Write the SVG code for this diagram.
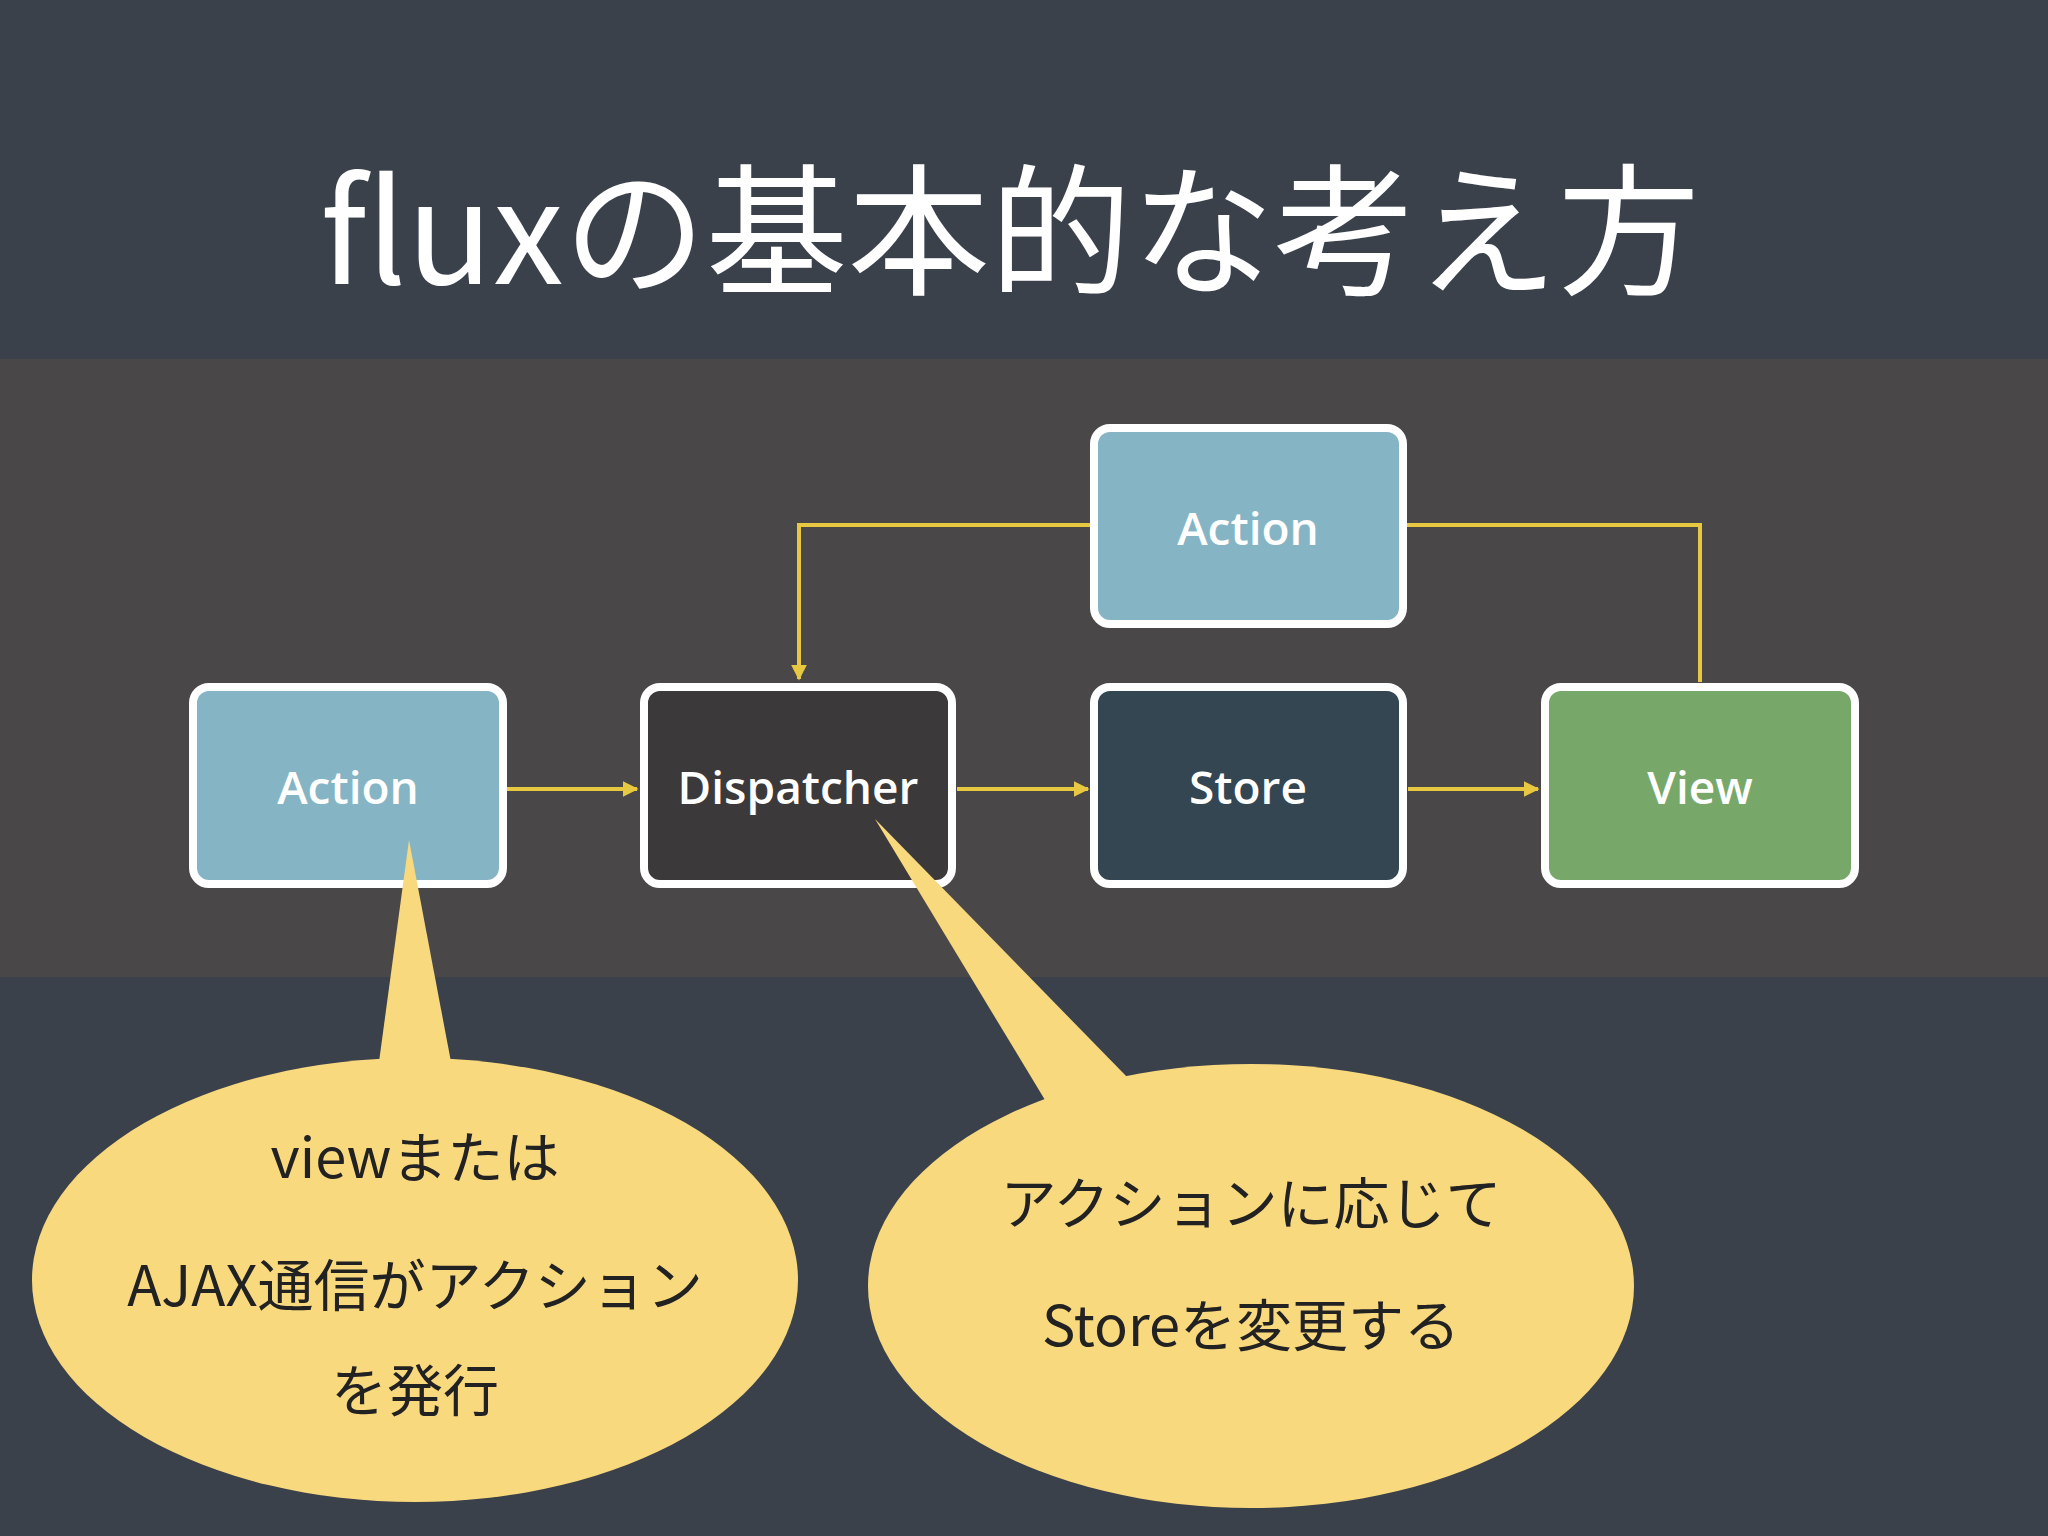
<svg xmlns="http://www.w3.org/2000/svg" width="2048" height="1536" viewBox="0 0 2048 1536">
<defs>
<style>
.n{stroke:#fff;stroke-width:8}
.nl{font-family:"Open Sans","Noto Sans",sans-serif;font-size:46px;font-weight:600;fill:#fff;text-anchor:middle}
.c{stroke:#e8c840;stroke-width:4;fill:none}
.bt{font-family:"Noto Sans CJK JP",serif;font-size:56px;fill:#222;text-anchor:middle}
.bub{fill:#f8d97e}
</style>
<marker id="a" viewBox="0 0 10 10" refX="9" refY="5" markerWidth="4" markerHeight="4" orient="auto"><path d="M0,0L10,5L0,10z" fill="#e8c840"/></marker>
</defs>
<rect width="2048" height="1536" fill="#3b414b"/>
<rect y="359" width="2048" height="618" fill="#4a4748"/>
<text x="1010" y="284" font-family="'Noto Sans CJK JP',serif" font-size="142" fill="#fff" text-anchor="middle">fluxの基本的な考え方</text>
<g id="connectors">
<line class="c" x1="507" y1="789" x2="637" y2="789" marker-end="url(#a)"/>
<line class="c" x1="957" y1="789" x2="1088" y2="789" marker-end="url(#a)"/>
<line class="c" x1="1408" y1="789" x2="1538" y2="789" marker-end="url(#a)"/>
<polyline class="c" points="1700,682 1700,525 1403,525"/>
<polyline class="c" points="1094,525 799,525 799,679" marker-end="url(#a)"/>
</g>
<g id="action-top"><rect class="n" x="1094" y="428" width="309" height="196" rx="16" fill="#85b5c4"/><text class="nl" x="1248" y="545">Action</text></g>
<g id="action-left"><rect class="n" x="193" y="687" width="310" height="197" rx="16" fill="#85b5c4"/><text class="nl" x="348" y="804">Action</text></g>
<g id="dispatcher"><rect class="n" x="644" y="687" width="308" height="197" rx="16" fill="#3c393a"/><text class="nl" x="798" y="804">Dispatcher</text></g>
<g id="store"><rect class="n" x="1094" y="687" width="309" height="197" rx="16" fill="#334651"/><text class="nl" x="1248" y="804">Store</text></g>
<g id="view"><rect class="n" x="1545" y="687" width="310" height="197" rx="16" fill="#77a86a"/><text class="nl" x="1700" y="804">View</text></g>
<g id="bubble1">
<polygon class="bub" points="409,840 379,1062 451,1062"/>
<ellipse class="bub" cx="415" cy="1280" rx="383" ry="222"/>
<text class="bt" x="415" y="1178">viewまたは</text>
<text class="bt" x="415" y="1306">AJAX通信がアクション</text>
<text class="bt" x="415" y="1411">を発行</text>
</g>
<g id="bubble2">
<polygon class="bub" points="875,819 1045,1100 1130,1080"/>
<ellipse class="bub" cx="1251" cy="1286" rx="383" ry="222"/>
<text class="bt" x="1251" y="1224">アクションに応じて</text>
<text class="bt" x="1251" y="1346">Storeを変更する</text>
</g>
</svg>
